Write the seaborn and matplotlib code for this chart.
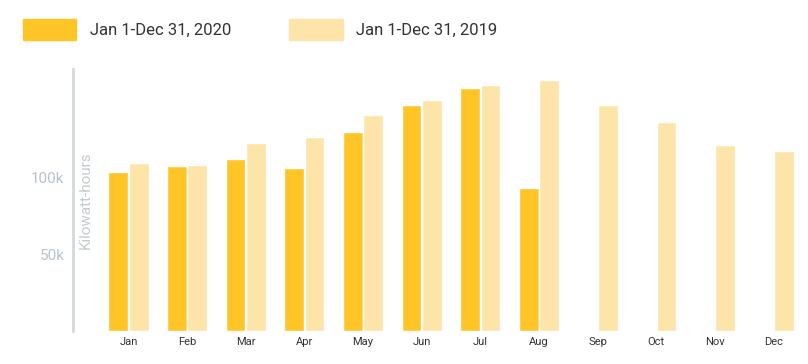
import pandas as pd
import numpy as np
import matplotlib.pyplot as plt
import seaborn as sns
from matplotlib.ticker import FuncFormatter

sns.set_theme(style='white')
plt.rcParams['font.family'] = ['Roboto', 'DejaVu Sans']

# data (kWh)
months = ['Jan', 'Feb', 'Mar', 'Apr', 'May', 'Jun', 'Jul', 'Aug', 'Sep', 'Oct', 'Nov', 'Dec']
usage_2020 = [103000, 107000, 112000, 106000, 129000, 147000, 158000, 93000,
              np.nan, np.nan, np.nan, np.nan]
usage_2019 = [109000, 108000, 122000, 126000, 140000, 150000, 160000, 163000,
              147000, 136000, 121000, 117000]
series_labels = ['Jan 1-Dec 31, 2020', 'Jan 1-Dec 31, 2019']

df = pd.DataFrame({
    'month': months * 2,
    'kwh': usage_2020 + usage_2019,
    'period': [series_labels[0]] * 12 + [series_labels[1]] * 12,
})

palette = {series_labels[0]: '#FFC527', series_labels[1]: '#FDE5AA'}

fig = plt.figure(figsize=(8.08, 3.64), dpi=100)
ax = fig.add_axes([0.09, 0.09, 0.90, 0.72])

sns.barplot(data=df, x='month', y='kwh', hue='period', palette=palette,
            width=0.7, gap=0.04, saturation=1, ax=ax, legend=False)

ax.set_xlim(-0.95, 11.45)
ax.set_ylim(0, 170000)
ax.set_yticks([50000, 100000])
ax.yaxis.set_major_formatter(FuncFormatter(lambda v, p: f'{int(v/1000)}k'))
ax.tick_params(axis='y', colors='#B9C2CA', labelsize=11, length=0, pad=6)
ax.tick_params(axis='x', colors='#333333', labelsize=8, length=0, pad=4)
ax.set_xlabel('')
ax.set_ylabel('Kilowatt-hours', color='#C3CBD2', fontsize=11)
ax.yaxis.set_label_coords(0.028, 0.5)

for s in ['top', 'right', 'bottom']:
    ax.spines[s].set_visible(False)
ax.spines['left'].set_color('#D3D9DE')
ax.spines['left'].set_linewidth(2)

# legend
handles = [plt.Rectangle((0, 0), 1, 1, color=palette[l]) for l in series_labels]
fig.legend(handles, series_labels, loc='upper left', bbox_to_anchor=(0.01, 0.99),
           ncol=2, frameon=False, fontsize=12, handlelength=3.2, handleheight=1.6,
           columnspacing=3.5, labelcolor='#333333')

fig.savefig('out.png', dpi=100)
